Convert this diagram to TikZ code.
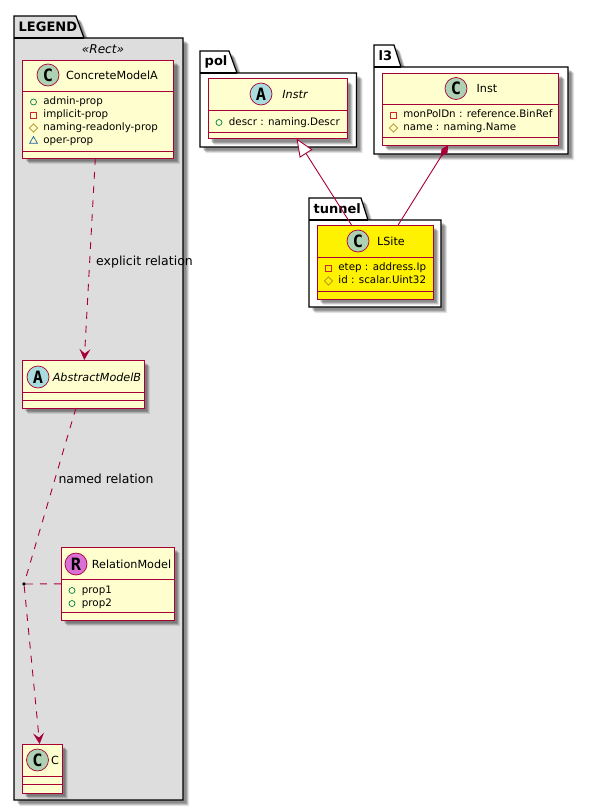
\documentclass[tikz,border=0pt]{standalone}
\usepackage{fontspec}
\setmainfont{DejaVu Sans}
\newfontfamily\spotfont{DejaVu Sans Mono}
\usetikzlibrary{arrows.meta,shadows,shapes.geometric}
\definecolor{umlred}{HTML}{A80036}
\definecolor{classfill}{HTML}{FEFECE}
\definecolor{legendgrey}{HTML}{DDDDDD}
\definecolor{spotC}{HTML}{ADD1B2}
\definecolor{spotA}{HTML}{A9DCDF}
\definecolor{spotR}{HTML}{DA70D6}
\definecolor{pubgreen}{HTML}{038048}
\definecolor{privred}{HTML}{C82930}
\definecolor{protgold}{HTML}{B38D22}
\definecolor{packblue}{HTML}{1963A0}
\tikzset{
  softshadow/.style={
    general shadow={shadow xshift=6pt,shadow yshift=-6pt,fill=black,opacity=.1},
    general shadow={shadow xshift=5pt,shadow yshift=-5pt,fill=black,opacity=.14},
    general shadow={shadow xshift=4pt,shadow yshift=-4pt,fill=black,opacity=.18},
    general shadow={shadow xshift=3pt,shadow yshift=-3pt,fill=black,opacity=.12}},
  packbox/.style={draw=black,line width=1.2pt,line join=miter,softshadow},
  packname/.style={font=\fontsize{13}{14}\selectfont\bfseries,inner sep=0pt,anchor=west},
  classbox/.style={draw=umlred,line width=.95pt,inner sep=0pt,outer sep=0pt,softshadow},
  classline/.style={draw=umlred,line width=.95pt},
  spot/.style={circle,draw=umlred,line width=.7pt,minimum size=22pt,inner sep=0pt,font=\spotfont\fontsize{17}{17}\selectfont\bfseries},
  classname/.style={font=\fontsize{11.2}{13}\selectfont,inner sep=0pt},
  attrtext/.style={font=\fontsize{10.3}{12}\selectfont,inner sep=0pt,anchor=west,text height=7.5pt,text depth=2pt},
  iconpub/.style={circle,draw=pubgreen,line width=.7pt,minimum size=6pt,inner sep=0pt},
  iconpriv/.style={rectangle,draw=privred,line width=.7pt,minimum size=6pt,inner sep=0pt},
  iconprot/.style={diamond,draw=protgold,line width=.7pt,minimum size=8.5pt,inner sep=0pt},
  iconpack/.style={regular polygon,regular polygon sides=3,draw=packblue,line width=.7pt,minimum size=9pt,inner sep=0pt},
  relline/.style={draw=umlred,line width=.9pt},
  reldash/.style={relline,dash pattern=on 7pt off 7pt},
  rellabel/.style={font=\fontsize{12.5}{14}\selectfont,inner sep=0pt}
}
\begin{document}
\begin{tikzpicture}[x=1pt,y=-1pt,>={Stealth[length=11pt,width=11pt,inset=4.5pt]}]
\useasboundingbox (0,0) rectangle (589,811);
\foreach \p/\xa/\ta/\ya/\yb/\tb/\tc/\xb/\yc/\c/\t in {
  legend/14/16/38/38/76/84/183/800/legendgrey/LEGEND,
  pol/200/51/73/73/229/237/356.5/147/white/pol,
  lthree/374/45/67/67/394/401/568/154/white/l3,
  tunnel/309/198/220/220/361/368/441/307/white/tunnel}{
  \draw[packbox,fill=\c] (\xa,\yc) -- (\xa,\ta) -- (\tb,\ta) -- (\tc,\ya) -- (\xb,\ya) -- (\xb,\yc) -- cycle;
  \draw[line width=1.2pt] (\xa,\ya) -- (\tc,\ya);
  \node[packname] (\p name) at (\xa+4.5,{(\ta+\ya)/2}) {\t};
}
\node[font=\fontsize{12.1}{14}\selectfont\itshape,inner sep=0pt] (rectstereo) at (103,49) {«Rect»};
\foreach \n/\cx/\cy/\w/\h/\da/\db/\f in {
  concreteA/98/109/151/98/91/151/classfill,
  abstractB/83/384/122/48/392/400/classfill,
  relationModel/117.5/583.5/113/73/579/612/classfill,
  modelC/42/768.5/40/49/776/784/classfill,
  instr/277.5/108.5/139/60/110/132/classfill,
  inst/470.7/109/176.5/72/104/137/classfill,
  lsite/375/262/116/74/257/291/yellow}{
  \node[classbox,fill=\f,minimum width=\w pt,minimum height=\h pt] (\n) at (\cx,\cy) {};
  \draw[classline] (\n.west |- 0,\da) -- (\n.east |- 0,\da);
  \draw[classline] (\n.west |- 0,\db) -- (\n.east |- 0,\db);
}
\foreach \n/\x/\y/\c/\l in {
  spotconcrete/48/75/spotC/C,spotabstract/38/377/spotA/A,spotrelation/76/564/spotR/R,
  spotmodelc/37.5/760/spotC/C,spotinstr/261/94/spotA/A,spotinst/456/88.5/spotC/C,spotlsite/358/241/spotC/C}{
  \node[spot,fill=\c] (\n) at (\x,\y) {\l};
}
\foreach \n/\x/\y/\t in {
  nameconcrete/112/75/ConcreteModelA,namerelation/131.5/564/RelationModel,namemodelc/55/760/C,
  nameinst/487/88.5/Inst,namelsite/391/241/LSite}{
  \node[classname] (\n) at (\x,\y) {\t};
}
\node[classname,font=\fontsize{11.2}{13}\selectfont\itshape] (nameabstract) at (97,377) {AbstractModelB};
\node[classname,font=\fontsize{11.2}{13}\selectfont\itshape] (nameinstr) at (295,94) {Instr};
\foreach \n/\x/\y/\k/\t in {
  a/33.5/102/iconpub/admin-prop,
  b/33.5/115/iconpriv/implicit-prop,
  c/33.5/128/iconprot/naming-readonly-prop,
  d/33.5/141/iconpack/oper-prop,
  e/72/590.5/iconpub/prop1,
  f/72/603.5/iconpub/prop2,
  g/219/122.5/iconpub/descr : naming.Descr,
  h/393.5/115/iconpriv/monPolDn : reference.BinRef,
  i/393.5/128/iconprot/name : naming.Name,
  j/328.5/268/iconpriv/etep : address.Ip,
  k/328.5/281/iconprot/id : scalar.Uint32}{
  \node[\k] (icon\n) at (\x,\y) {};
  \node[attrtext] (attr\n) at (\x+9.7,\y) {\t};
}
\node[circle,fill=black,minimum size=3.6pt,inner sep=0pt] (relpoint) at (24,584) {};
\draw[reldash,->] (concreteA) -- (abstractB);
\draw[reldash] (abstractB) -- (relpoint);
\draw[reldash,->] (relpoint) -- (modelC);
\draw[reldash] (relpoint) -- (relationModel);
\draw[relline,-{Triangle[open,fill=white,length=18pt,width=15pt]}] (lsite) -- (instr);
\draw[relline,-{Diamond[fill=umlred,length=14pt,width=7pt]}] (lsite) -- (inst);
\node[rellabel] (explicitlabel) at (144.5,262) {explicit relation};
\node[rellabel] (namedlabel) at (106,479) {named relation};
\end{tikzpicture}
\end{document}
